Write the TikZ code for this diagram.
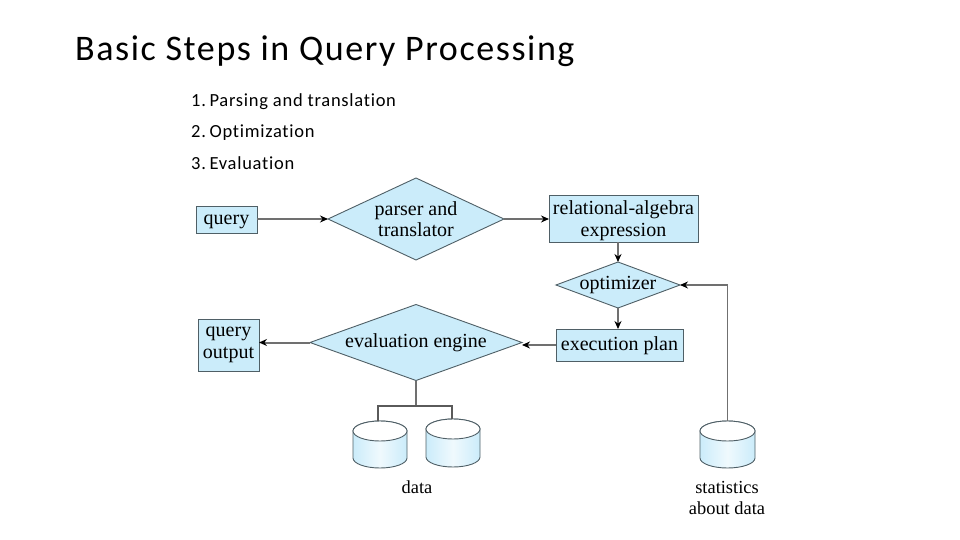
\documentclass[tikz,border=0pt]{standalone}
\usepackage{fontspec}
\setmainfont{Liberation Serif}
\newfontfamily\titlefont[LetterSpace=4.4,Ligatures=NoCommon]{Carlito}
\newfontfamily\listfont[LetterSpace=4,Ligatures=NoCommon]{Carlito}
\usetikzlibrary{shapes.geometric,arrows.meta}
\definecolor{boxblue}{HTML}{CBECFA}
\definecolor{edgegray}{HTML}{4F5F66}
\definecolor{linegray}{HTML}{707070}
\newcommand{\cylshape}[5]{% name, left, right, top, bottom
  \path[left color=boxblue,right color=boxblue,middle color=white!70!boxblue,draw=edgegray,line width=0.9pt]
    (#2,#4+10) -- (#2,#5-10) arc[x radius={(#3-#2)/2},y radius=10,start angle=180,end angle=0] -- (#3,#4+10) arc[x radius={(#3-#2)/2},y radius=10,start angle=0,end angle=-180] -- cycle;
  \draw[edgegray,line width=0.9pt,fill=white] (#2,#4+10) arc[x radius={(#3-#2)/2},y radius=10,start angle=180,end angle=540];
  \node[cylnode] (#1) at ({(#2+#3)/2},{(#4+#5)/2}) [minimum width={(#3-#2)*1pt},minimum height={(#5-#4)*1pt}] {};
}
\tikzset{
  x=1pt,y=-1pt,
  bluebox/.style={draw=edgegray,fill=boxblue,line width=1pt,align=center,inner sep=0pt,outer sep=0pt,font=\fontsize{20}{22}\selectfont},
  oneline/.style={text height=14pt,text depth=4pt},
  bluediamond/.style={diamond,draw=edgegray,fill=boxblue,line width=0.9pt,align=center,inner sep=0pt,outer sep=0pt,font=\fontsize{20}{21}\selectfont},
  cylnode/.style={inner sep=0pt,outer sep=0pt},
  conn/.style={draw=linegray,line width=2pt},
  thinconn/.style={draw=linegray!80!black,line width=1.2pt},
  flow/.style={conn,-{Stealth[length=8pt,width=7pt,color=black]}},
  plainlabel/.style={align=center,inner sep=0pt,font=\fontsize{18.4}{21}\selectfont},
  titletext/.style={anchor=base west,inner sep=0pt,font=\titlefont\fontsize{36}{40}\selectfont},
  listtext/.style={anchor=base west,inner sep=0pt,font=\listfont\fontsize{18.5}{22}\selectfont},
}
\begin{document}
\begin{tikzpicture}
\useasboundingbox (0,0) rectangle (960,540);
\node[titletext] (title) at (75,61) {Basic Steps in Query Processing};
\node[listtext] (l1) at (191,107) {1.\hspace{-3pt} Parsing and translation};
\node[listtext] (l2) at (191,138) {2.\hspace{-3pt} Optimization};
\node[listtext] (l3) at (191,170) {3.\hspace{-3pt} Evaluation};

\node[bluebox,oneline,minimum width=61pt,minimum height=27pt] (query) at (226.5,219.5) {query};
\node[bluediamond,minimum width=176pt,minimum height=82pt,shape aspect=2.146] (parser) at (416,219) {parser and\\translator};
\node[bluebox,minimum width=149pt,minimum height=47pt] (rel) at (623.5,218.5) {\rule{0pt}{18pt}relational-algebra\\expression};
\node[bluediamond,minimum width=124pt,minimum height=46pt,shape aspect=2.7] (opt) at (618,285) {optimizer};
\node[bluebox,oneline,minimum width=127pt,minimum height=32pt] (plan) at (619.5,345) {execution plan};
\node[bluediamond,minimum width=212pt,minimum height=76pt,shape aspect=2.79] (eval) at (416,342.5) {evaluation engine};
\node[bluebox,minimum width=61pt,minimum height=52pt] (output) at (228.5,345) {query\\output};

\cylshape{d1}{353}{407}{421}{468}
\cylshape{d2}{426}{480}{419}{467}
\cylshape{stats}{700}{755}{421}{468}

\node[plainlabel] (datalabel) at (417,487) {data};
\node[plainlabel] (statlabel) at (727,498) {statistics\\about data};

\coordinate (junction) at (eval.south |- 0,406);
\coordinate (statscorner) at (stats.north |- opt.east);

\draw[flow] (query.east |- parser.west) -- (parser.west);
\draw[flow] (parser.east) -- (rel.west |- parser.east);
\draw[flow] (rel.south -| opt.north) -- (opt.north);
\draw[flow] (opt.south) -- (opt.south |- plan.north);
\draw[flow] (plan.west) -- (plan.west -| eval.east);
\draw[flow] (eval.west) -- (output.east |- eval.west);
\draw[flow,line width=1.3pt] (stats.north) -- (statscorner) -- (opt.east);
\draw[conn] (eval.south) -- (junction);
\draw[thinconn] (d1.north -| 378,0) |- (junction) -| (d2.north -| 452,0);
\end{tikzpicture}
\end{document}
